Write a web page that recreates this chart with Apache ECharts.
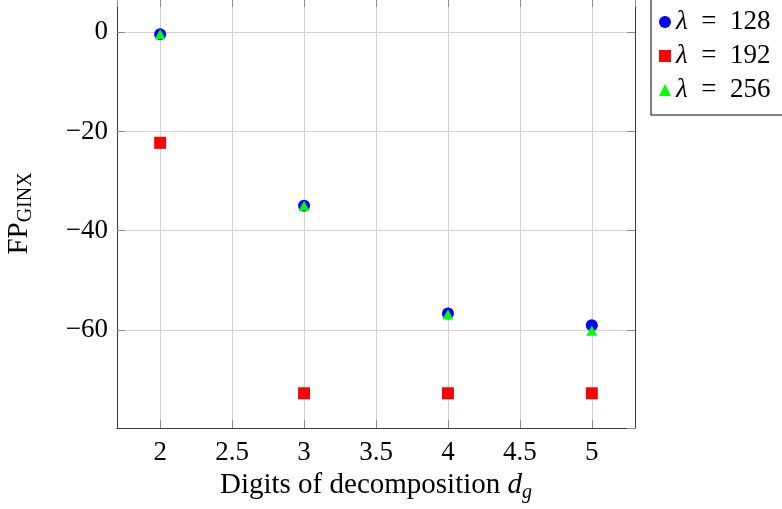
<!DOCTYPE html>
<html>
<head>
<meta charset="utf-8">
<script src="https://cdn.jsdelivr.net/npm/echarts@6/dist/echarts.min.js"></script>
<style>
html,body{margin:0;padding:0;background:#fff;}
#chart{width:782px;height:509px;}
</style>
</head>
<body>
<div id="chart"></div>
<script>
// Data
const digits = [2, 3, 4, 5];
const fp128 = [-0.4, -35.0, -56.7, -59.1];
const fp192 = [-22.3, -72.8, -72.8, -72.8];
const fp256 = [-0.4, -35.0, -56.9, -60.2];
const seriesNames = ['λ = 128', 'λ = 192', 'λ = 256'];

const FONT = 'Liberation Serif';
const pair = (xs, ys) => xs.map((x, i) => [x, ys[i]]);

const chart = echarts.init(document.getElementById('chart'), null, {renderer: 'canvas'});

const frameLine = {show: true, onZero: false, lineStyle: {color: '#3a3a3a', width: 1}};
const tickStyle = {show: true, inside: true, length: 8, lineStyle: {color: '#8a8a8a', width: 1}};
const fmtNum = v => '{n|' + String(v).replace('-', '\u2212') + '}';
const numRich = {n: {fontFamily: FONT, fontSize: 27, color: '#000'}};

chart.setOption({
  animation: false,
  backgroundColor: '#ffffff',
  textStyle: {fontFamily: FONT},
  grid: {left: 117, right: 147, top: -1, bottom: 81, containLabel: false, outerBoundsMode: 'none'},
  legend: {
    data: seriesNames,
    orient: 'vertical',
    left: 651,
    top: -4,
    padding: [11, 20, 10, 8],
    itemGap: 4,
    itemWidth: 12,
    itemHeight: 12,
    backgroundColor: '#ffffff',
    borderColor: '#000000',
    borderWidth: 1,
    borderRadius: 0,
    formatter: name => '{i|λ}{t|' + name.replace('λ', '').replace(' = ', '\u2002=\u2002') + '}',
    textStyle: {
      fontFamily: FONT, fontSize: 27, color: '#000', lineHeight: 30,
      rich: {
        i: {fontFamily: FONT, fontStyle: 'italic', fontSize: 27, color: '#000', lineHeight: 30},
        t: {fontFamily: FONT, fontSize: 27, color: '#000', lineHeight: 30}
      }
    }
  },
  xAxis: [{
    type: 'value', min: 1.7, max: 5.3, splitNumber: 8,
    position: 'bottom',
    axisLine: frameLine,
    axisTick: tickStyle,
    splitLine: {show: true, lineStyle: {color: '#d2d2d2', width: 1}},
    axisLabel: {show: true, showMinLabel: false, showMaxLabel: false, margin: 11,
      fontFamily: FONT, fontSize: 27, color: '#000', formatter: fmtNum, rich: numRich},
    name: '{r|Digits of decomposition }{i|d}{s|g}',
    nameLocation: 'middle',
    nameGap: 37,
    nameTextStyle: {
      rich: {
        r: {fontFamily: FONT, fontSize: 29, color: '#000', lineHeight: 34},
        i: {fontFamily: FONT, fontSize: 29, fontStyle: 'italic', color: '#000', lineHeight: 34},
        s: {fontFamily: FONT, fontSize: 20, fontStyle: 'italic', color: '#000', lineHeight: 18, verticalAlign: 'bottom'}
      }
    }
  }, {
    type: 'value', min: 1.7, max: 5.3, splitNumber: 8,
    position: 'top',
    axisLine: frameLine,
    axisTick: tickStyle,
    splitLine: {show: false},
    axisLabel: {show: false}
  }],
  yAxis: [{
    type: 'value', min: -79.8, max: 6.7, splitNumber: 5,
    position: 'left',
    axisLine: frameLine,
    axisTick: tickStyle,
    splitLine: {show: true, lineStyle: {color: '#d2d2d2', width: 1}},
    axisLabel: {show: true, showMinLabel: false, showMaxLabel: false, margin: 9,
      fontFamily: FONT, fontSize: 27, color: '#000', formatter: fmtNum, rich: numRich},
    name: '{a|FP}{b|GINX}',
    nameLocation: 'middle',
    nameRotate: 90,
    nameGap: 81,
    nameTextStyle: {
      rich: {
        a: {fontFamily: FONT, fontSize: 29, color: '#000', lineHeight: 34},
        b: {fontFamily: FONT, fontSize: 20, color: '#000', lineHeight: 18, verticalAlign: 'bottom'}
      }
    }
  }, {
    type: 'value', min: -79.8, max: 6.7, splitNumber: 5,
    position: 'right',
    axisLine: frameLine,
    axisTick: tickStyle,
    splitLine: {show: false},
    axisLabel: {show: false}
  }],
  series: [
    {name: seriesNames[0], type: 'scatter', data: pair(digits, fp128),
      symbol: 'circle', symbolSize: 12, itemStyle: {color: '#0000ff', opacity: 1}, z: 3},
    {name: seriesNames[1], type: 'scatter', data: pair(digits, fp192),
      symbol: 'rect', symbolSize: 12, itemStyle: {color: '#ff0000', opacity: 1}, z: 4},
    {name: seriesNames[2], type: 'scatter', data: pair(digits, fp256),
      symbol: 'triangle', symbolSize: [11, 10], itemStyle: {color: '#00ff00', opacity: 1}, z: 5}
  ]
});
</script>
</body>
</html>
